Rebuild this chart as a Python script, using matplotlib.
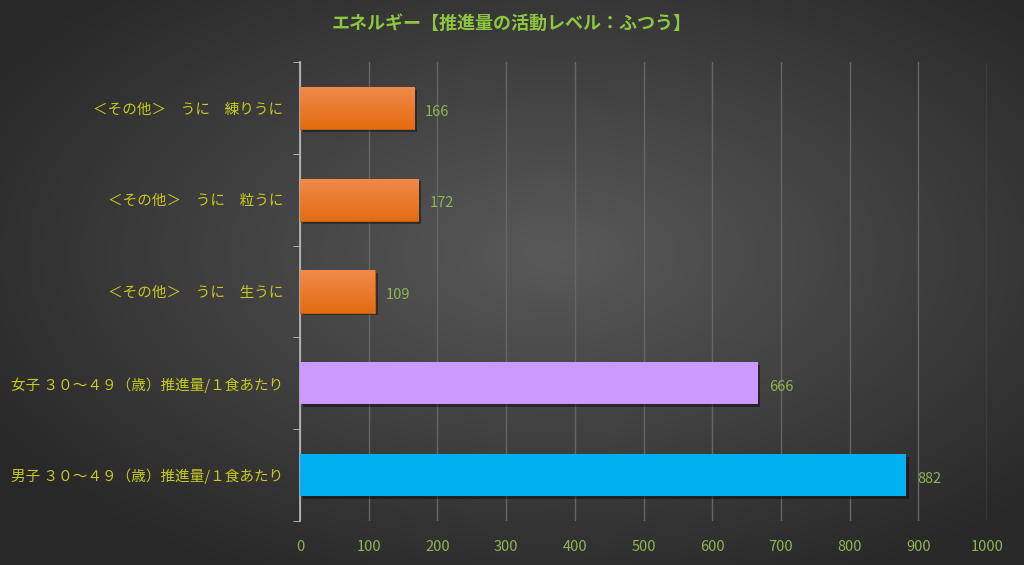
import matplotlib.pyplot as plt
import matplotlib.patheffects as pe
import numpy as np
from matplotlib.colors import LinearSegmentedColormap

plt.rcParams['font.family'] = ['Noto Sans CJK JP', 'DejaVu Sans']

# データ (下から上の順)
categories = ['男子 ３０～４９（歳）推進量/１食あたり',
              '女子 ３０～４９（歳）推進量/１食あたり',
              '＜その他＞　うに　生うに',
              '＜その他＞　うに　粒うに',
              '＜その他＞　うに　練りうに']
values = [882, 666, 109, 172, 166]
bar_colors = ['#00B0F0', '#CC99FF', '#ED7D31', '#ED7D31', '#ED7D31']
xticks = [0, 100, 200, 300, 400, 500, 600, 700, 800, 900, 1000]
title = 'エネルギー【推進量の活動レベル：ふつう】'

fig = plt.figure(figsize=(10.24, 5.65), dpi=100)

# 背景 (放射グラデーション、中央が明るい)
bg = fig.add_axes([0, 0, 1, 1], zorder=-10)
yy, xx = np.mgrid[-1:1:300j, -1:1:500j]
r = np.sqrt((xx - 0.08) ** 2 + (yy + 0.1) ** 2)
g = np.clip(0.35 - 0.15 * r, 0.16, 0.36)
bg.imshow(np.dstack([g, g, g]), aspect='auto', extent=[0, 1, 0, 1])
bg.axis('off')

ax = fig.add_axes([0.293, 0.078, 0.671, 0.812])
ax.patch.set_alpha(0)

y = np.arange(len(categories))
bars = ax.barh(y, values, height=0.46, color=bar_colors, zorder=3,
               path_effects=[pe.SimplePatchShadow(offset=(2, -2), shadow_rgbFace='black', alpha=0.4),
                             pe.Normal()])

# オレンジのバーは上が明るいグラデーション
orange = LinearSegmentedColormap.from_list('orng', ['#E46C12', '#F08A4B'])
grad = np.linspace(0, 1, 64).reshape(-1, 1)
for b, c in zip(bars, bar_colors):
    if c == '#ED7D31':
        b.set_edgecolor('#C55A11')
        b.set_linewidth(0.8)
        x0, y0 = b.get_x(), b.get_y()
        im = ax.imshow(grad, cmap=orange, aspect='auto', origin='lower',
                       extent=[x0, x0 + b.get_width(), y0, y0 + b.get_height()], zorder=3.5)
        im.set_clip_path(b)

for yi, v in zip(y, values):
    ax.annotate(str(v), (v, yi), xytext=(8, -2.5), textcoords='offset points',
                va='center', ha='left', color='#8DB552', fontsize=10.5)

ax.set_xlim(0, 1000)
ax.set_ylim(-0.5, len(categories) - 0.5)
ax.set_xticks(xticks)
ax.set_xticklabels([str(t) for t in xticks], color='#8DB552', fontsize=10.5)
ax.tick_params(axis='x', length=0, pad=14)
ax.grid(axis='x', color='#666666', linewidth=1, zorder=0)

ax.set_yticks(y)
ax.set_yticklabels(categories, color='#C8C81E', fontsize=10.5)
ax.set_yticks(np.arange(-0.5, len(categories), 1), minor=True)
ax.tick_params(axis='y', which='major', length=0, pad=12)
ax.tick_params(axis='y', which='minor', length=5, color='#bfbfbf', direction='out')

for s in ['top', 'right', 'bottom']:
    ax.spines[s].set_visible(False)
ax.spines['left'].set_color('#bfbfbf')
ax.spines['left'].set_linewidth(1.2)

fig.text(0.5, 0.958, title, ha='center', va='center', color='#8DC63F',
         fontsize=13, fontweight='bold')

fig.savefig('out.png', dpi=100)
